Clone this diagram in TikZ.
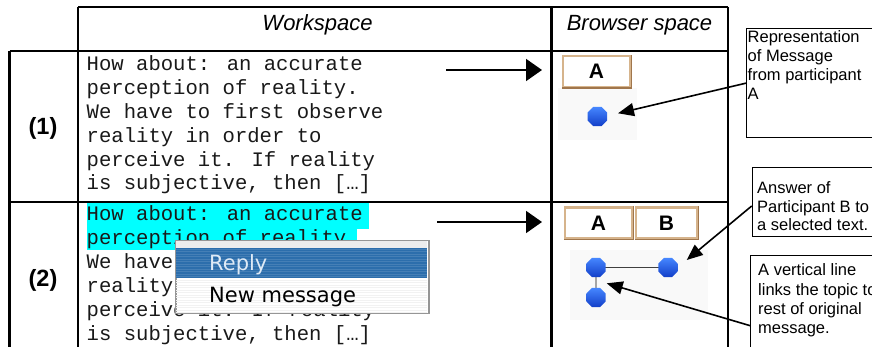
\documentclass[tikz,border=0pt]{standalone}
\usepackage{fontspec}
\setmainfont{Liberation Sans}
\newfontfamily\monofont{Liberation Mono}
\newfontfamily\menufont{DejaVu Sans}
\usetikzlibrary{arrows.meta,shapes.geometric}

\definecolor{hilite}{RGB}{0,255,255}
\definecolor{menublue}{RGB}{44,110,172}
\definecolor{menuedge}{RGB}{150,150,150}
\definecolor{replytext}{RGB}{222,234,246}
\definecolor{btntan}{RGB}{214,180,140}
\definecolor{btndark}{RGB}{160,118,76}
\definecolor{dottop}{RGB}{70,135,255}
\definecolor{dotbottom}{RGB}{18,62,200}
\definecolor{panelgray}{RGB}{249,249,249}

\begin{document}
\begin{tikzpicture}[x=1pt,y=-1pt,
  grid/.style={line width=2.2pt},
  head/.style={font=\fontsize{22}{26}\selectfont\itshape, anchor=base, inner sep=0},
  rowlabel/.style={font=\fontsize{23.5}{28}\selectfont\bfseries, anchor=base, inner sep=0},
  mono/.style={font=\monofont\fontsize{20.6}{24}\selectfont, anchor=base west, inner sep=0, text=black!90},
  callbox/.style={draw, line width=1.3pt, anchor=north west, inner sep=0},
  calltext/.style={font=\fontsize{16.5}{19}\selectfont, anchor=base west, inner sep=0},
  flow/.style={line width=1.7pt, -{Triangle[length=16pt,width=22pt]}},
  pointer/.style={line width=1.6pt, -{Triangle[length=16pt,width=13pt]}},
  msgdot/.style={regular polygon, regular polygon sides=8, minimum size=21pt,
    inner sep=0, top color=dottop, bottom color=dotbottom, draw=none},
  btn/.style={draw=btntan, line width=2.4pt, fill=white, minimum height=31pt,
    inner sep=0, font=\fontsize{21}{24}\selectfont\bfseries},
  menutext/.style={font=\menufont\fontsize{21}{24}\selectfont, anchor=base west, inner sep=0}
]
\useasboundingbox (0,0) rectangle (872,347);

% ---- header captions ----
\node[head] (hw) at (317.5,30.5) {Workspace};
\node[head] (hb) at (639.5,30.5) {Browser space};

% ---- row labels ----
\node[rowlabel] (l1) at (43,135) {(1)};
\node[rowlabel] (l2) at (43,286.5) {(2)};

% ---- row 1: plain message text ----
\foreach \ln [count=\i] in {How about: an accurate,perception of reality.,We have to first observe,reality in order to,perceive it. If reality,{is subjective, then […]}}
  \node[mono] (wa\i) at (86.5,{70.5+23.9*(\i-1)}) {\ln};

% ---- row 2: selected text and context menu ----
\fill[hilite] (86.5,202.8) rectangle (369,229);
\fill[hilite] (86.5,229) rectangle (357,250.5);
\foreach \ln [count=\i] in {How about: an accurate,perception of reality.,We have to first observe,reality in order to,perceive it. If reality,{is subjective, then […]}}
  \node[mono] (wb\i) at (86.5,{220.8+23.9*(\i-1)}) {\ln};

\node[draw=menuedge, line width=1.5pt, fill=white, anchor=north west,
      minimum width=253pt, minimum height=72.7pt, inner sep=0] (menu) at (175,240) {};
\fill[black!7] (175.8,240.8) rectangle (427.2,248);
\fill[menublue] (175.8,248) rectangle (427.2,278.3);
\foreach \k in {0,...,11}
  \draw[white, opacity=0.12, line width=0.8pt] (175.8,{249.2+2.5*\k}) -- (427.2,{249.2+2.5*\k});
\foreach \k in {0,...,13}
  \draw[black!5, line width=0.8pt] (175.8,{280+2.5*\k}) -- (427.2,{280+2.5*\k});
\node[menutext, text=replytext] (reply) at (209,270) {Reply};
\node[menutext, text=black] (newmsg) at (209,302.7) {New message};

% ---- table rules ----
\draw[grid] (78,7) -- (728,7);
\draw[grid] (9.5,51) -- (728,51);
\draw[grid] (9.5,201.7) -- (728,201.7);
\draw[grid] (9.5,51) -- (9.5,360);
\draw[grid] (78,7) -- (78,360);
\draw[grid] (551.5,7) -- (551.5,360);
\draw[grid] (728,7) -- (728,360);

% ---- workspace to browser arrows ----
\coordinate (f1s) at (446,70);
\coordinate (f1e) at (542,70);
\coordinate (f2s) at (437,222);
\coordinate (f2e) at (542,222);
\draw[flow] (f1s) -- (f1e);
\draw[flow] (f2s) -- (f2e);

% ---- browser space, row 1 ----
\fill[panelgray] (558,88) rectangle (637,140);
\node[btn, minimum width=67pt] (ba1) at (596.5,71.5) {A};
\draw[btndark, line width=1.4pt] (ba1.south west) -- (ba1.south east) -- (ba1.north east);
\node[msgdot] (d1) at (597.3,116.5) {};

% ---- browser space, row 2 ----
\fill[panelgray] (570,250) rectangle (708,320);
\node[btn, minimum width=67pt] (ba2) at (598.5,223) {A};
\node[btn, minimum width=61pt] (bb2) at (666.5,223) {B};
\draw[btndark, line width=1.4pt] (ba2.south west) -- (ba2.south east) -- (ba2.north east);
\draw[btndark, line width=1.4pt] (bb2.south west) -- (bb2.south east) -- (bb2.north east);
\coordinate (d2ac) at (596,267.5);
\coordinate (d2bc) at (668,267.5);
\coordinate (d2cc) at (596,297.5);
\draw[black!75, line width=1.3pt] (d2ac) -- (d2bc);
\draw[black!35, line width=1.6pt] (d2ac) -- (d2cc);
\node[msgdot] (d2a) at (d2ac) {};
\node[msgdot] (d2b) at (d2bc) {};
\node[msgdot] (d2c) at (d2cc) {};

% ---- callouts ----
\node[callbox, minimum width=129pt, minimum height=109pt] (c1) at (746,28) {};
\foreach \ln [count=\i] in {Representation,of Message,from participant,A}
  \node[calltext] (c1t\i) at (747.5,{42.5+19*(\i-1)}) {\ln};

\node[callbox, minimum width=124pt, minimum height=69.3pt] (c2) at (751.7,166.7) {};
\foreach \ln [count=\i] in {Answer of,Participant B to,a selected text.}
  \node[calltext] (c2t\i) at (757,{194+18.5*(\i-1)}) {\ln};

\node[callbox, minimum width=126pt, minimum height=105pt] (c3) at (750,255) {};
\foreach \ln [count=\i] in {A vertical line,links the topic to,rest of original,message.}
  \node[calltext] (c3t\i) at (758,{276+19*(\i-1)}) {\ln};

% ---- callout pointers ----
\coordinate (p1e) at (618,113.3);
\coordinate (p2e) at (686.7,260);
\coordinate (p3e) at (606.7,283.3);
\draw[pointer] (c1.west) -- (p1e);
\draw[pointer] ([yshift=-4pt]c2.west) -- (p2e);
\draw[pointer] ([yshift=-17.5pt]c3.west) -- (p3e);
\end{tikzpicture}
\end{document}
